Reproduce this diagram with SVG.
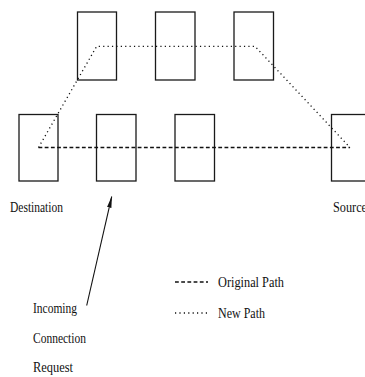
<svg xmlns="http://www.w3.org/2000/svg" width="365" height="377" viewBox="0 0 365 377">
  <defs>
    <style>
      .box { fill: #ffffff; stroke: #1a1a1a; stroke-width: 1.3; }
      .orig { fill: none; stroke: #111111; stroke-width: 1.3; stroke-dasharray: 3.8 2.4; }
      .newp { fill: none; stroke: #111111; stroke-width: 1.3; stroke-dasharray: 1.2 3.2; }
      .lbl { font-family: "Liberation Serif", "Times New Roman", serif; font-size: 15px; fill: #111111; }
      .arrow { stroke: #111111; stroke-width: 1.1; fill: none; }
    </style>
    <marker id="head" viewBox="0 0 12 6" refX="11" refY="3" markerWidth="12" markerHeight="6" markerUnits="userSpaceOnUse" orient="auto">
      <path d="M0,0.8 L12,3 L0,5.2 Z" fill="#111111"/>
    </marker>
  </defs>

  <!-- upper row of switches -->
  <g id="node-top-1"><rect class="box" x="77.5" y="12" width="39" height="68"/></g>
  <g id="node-top-2"><rect class="box" x="155.5" y="12" width="39.5" height="68"/></g>
  <g id="node-top-3"><rect class="box" x="234" y="12" width="39.5" height="68"/></g>

  <!-- lower row of switches -->
  <g id="node-destination">
    <rect class="box" x="19" y="114.5" width="39" height="66.5"/>
    <text class="lbl" x="10" y="212" textLength="53" lengthAdjust="spacingAndGlyphs">Destination</text>
  </g>
  <g id="node-bottom-2"><rect class="box" x="96.5" y="114.5" width="39.5" height="66.5"/></g>
  <g id="node-bottom-3"><rect class="box" x="175" y="114.5" width="39.5" height="66.5"/></g>
  <g id="node-source">
    <rect class="box" x="331.5" y="114.5" width="40" height="66.5"/>
    <text class="lbl" x="333" y="212" textLength="34" lengthAdjust="spacingAndGlyphs">Source</text>
  </g>

  <!-- paths between source and destination -->
  <g id="connectors">
    <line class="orig" x1="38.5" y1="147.5" x2="350" y2="147.5"/>
    <polyline class="newp" points="38.5,147.5 96.7,46.3 255,46.3 350,147.5"/>
    <line class="arrow" x1="86.7" y1="305.5" x2="111.7" y2="196.7" marker-end="url(#head)"/>
  </g>

  <!-- request label -->
  <g id="request-label">
    <text class="lbl" x="33" y="313" textLength="44" lengthAdjust="spacingAndGlyphs">Incoming</text>
    <text class="lbl" x="33" y="343" textLength="53" lengthAdjust="spacingAndGlyphs">Connection</text>
    <text class="lbl" x="33" y="372" textLength="40" lengthAdjust="spacingAndGlyphs">Request</text>
  </g>

  <!-- legend -->
  <g id="legend">
    <line class="orig" x1="175" y1="282" x2="208" y2="282"/>
    <text class="lbl" x="218" y="287" textLength="66" lengthAdjust="spacingAndGlyphs">Original Path</text>
    <line class="newp" x1="175" y1="313" x2="208" y2="313"/>
    <text class="lbl" x="218" y="318" textLength="47" lengthAdjust="spacingAndGlyphs">New Path</text>
  </g>
</svg>
